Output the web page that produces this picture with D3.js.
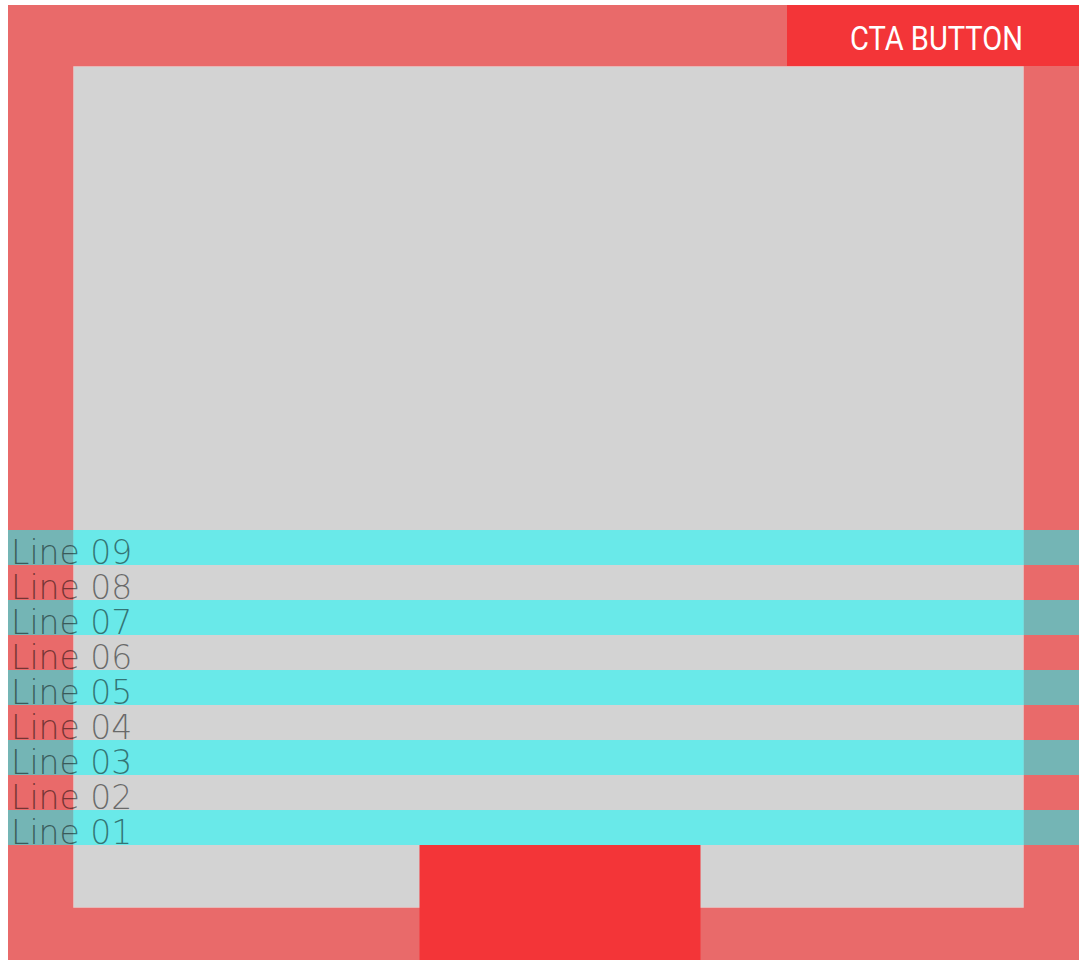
<!DOCTYPE html>
<html>
<head>
<meta charset="utf-8">
<script src="https://cdn.jsdelivr.net/npm/d3@7"></script>
<style>
  html, body { margin: 0; padding: 0; background: #ffffff; overflow: hidden; }
  svg { position: absolute; left: 0; top: 0; }
</style>
</head>
<body>
<script>
// ---- data ----
const lines = ["Line 09", "Line 08", "Line 07", "Line 06", "Line 05", "Line 04", "Line 03", "Line 02", "Line 01"];
const highlighted = [true, false, true, false, true, false, true, false, true];
const ctaLabel = "CTA BUTTON";

// ---- layout ----
const W = 1079, H = 960;
const svg = d3.select("body").append("svg").attr("width", W).attr("height", H);

const outer = { x0: 8, y0: 5, x1: 1079, y1: 960 };
const inner = { x0: 73, y0: 66, x1: 1024, y1: 908 };
const cta = { x0: 787, y0: 5, x1: 1079, y1: 66 };
const foot = { x0: 419, y0: 845, x1: 701, y1: 960 };

const edge = "rgba(255,255,255,0.25)";

// outer red frame
svg.append("rect")
  .attr("x", outer.x0).attr("y", outer.y0)
  .attr("width", outer.x1 - outer.x0).attr("height", outer.y1 - outer.y0)
  .attr("fill", "#E96A6A");

// inner grey panel
svg.append("rect")
  .attr("x", inner.x0 + 0.5).attr("y", inner.y0 + 0.5)
  .attr("width", inner.x1 - inner.x0 - 1).attr("height", inner.y1 - inner.y0 - 1)
  .attr("fill", "#D3D3D3").attr("stroke", edge).attr("stroke-width", 1);

// CTA button
svg.append("rect")
  .attr("x", cta.x0).attr("y", cta.y0)
  .attr("width", cta.x1 - cta.x0).attr("height", cta.y1 - cta.y0)
  .attr("fill", "#F33538");
svg.append("text")
  .attr("x", 850).attr("y", 50)
  .attr("font-family", "'Liberation Sans Narrow', 'Roboto', sans-serif")
  .attr("font-size", 34)
  .attr("fill", "#ffffff")
  .attr("textLength", 173)
  .attr("lengthAdjust", "spacingAndGlyphs")
  .text(ctaLabel);

// line bands
const y = d3.scaleBand().domain(lines).range([530, 845]).padding(0);

svg.selectAll("rect.band")
  .data(lines.filter((d, i) => highlighted[i]))
  .join("rect")
  .attr("class", "band")
  .attr("x", outer.x0)
  .attr("y", d => y(d))
  .attr("width", outer.x1 - outer.x0)
  .attr("height", y.bandwidth())
  .attr("fill", "rgba(0,255,255,0.5)");

// bottom red block
svg.append("rect")
  .attr("x", foot.x0 + 0.5).attr("y", foot.y0)
  .attr("width", foot.x1 - foot.x0 - 1).attr("height", foot.y1 - foot.y0)
  .attr("fill", "#F33538");

// line labels
svg.selectAll("text.line")
  .data(lines)
  .join("text")
  .attr("class", "line")
  .attr("x", 11)
  .attr("y", d => y(d) + y.bandwidth() - 1)
  .attr("font-family", "'DejaVu Sans ExtraLight', 'DejaVu Sans', sans-serif")
  .attr("font-weight", 200)
  .attr("font-size", 33)
  .attr("fill", "rgba(0,0,0,0.5)")
  .text(d => d);
</script>
</body>
</html>
